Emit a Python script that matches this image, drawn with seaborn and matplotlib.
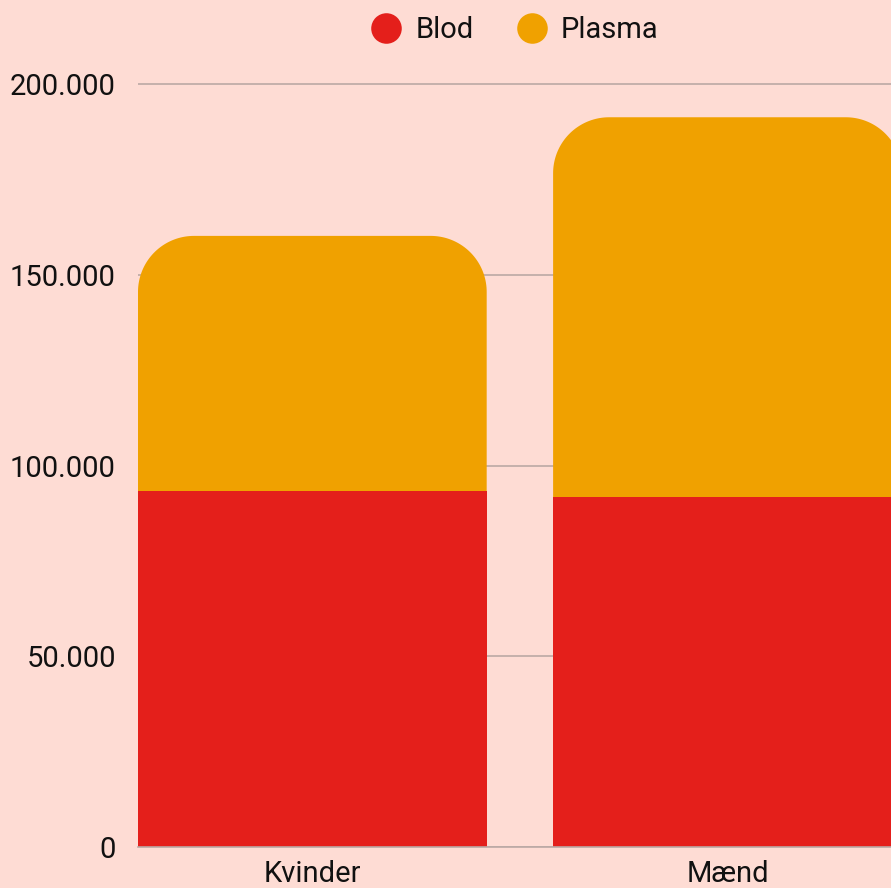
import matplotlib
matplotlib.use("Agg")

import numpy as np
import pandas as pd
import seaborn as sns
from matplotlib import pyplot as plt
from matplotlib.lines import Line2D
from matplotlib.patches import Polygon
from matplotlib.ticker import FuncFormatter

# data
categories = ["Kvinder", "Mænd"]
blod = [93300, 91700]
plasma = [66900, 99600]
yticks = [0, 50000, 100000, 150000, 200000]
series_labels = ["Blod", "Plasma"]

BG = "#FEDCD4"
RED = "#E41F1B"
ORANGE = "#F0A100"
GRID = "#BBA9A5"
TEXT = "#111111"

sns.set_theme(style="white")
plt.rcParams["font.family"] = ["Roboto", "DejaVu Sans"]

df = pd.DataFrame({"kategori": categories, "Blod": blod, "Plasma": plasma})
df["total"] = df["Blod"] + df["Plasma"]

W, H = 891, 888
fig = plt.figure(figsize=(W / 100, H / 100), dpi=100, facecolor=BG)
ax = fig.add_axes([138 / W, 41 / H, 1 - 138 / W, (H - 41 - 65) / H])
ax.set_facecolor(BG)

# stacked bars: total (plasma on top) first, blod drawn over it
bar_kw = dict(width=0.84, saturation=1, edgecolor="none", linewidth=0, ax=ax)
sns.barplot(data=df, x="kategori", y="total", color=ORANGE, **bar_kw)
n_top = len(ax.patches)
sns.barplot(data=df, x="kategori", y="Blod", color=RED, **bar_kw)

ax.set_xlim(-0.42, 1.394)
ax.set_ylim(0, 205000)

# round the top corners of the plasma bars with circular arcs (~56 px)
radius = 56
x_px = ax.transData.transform((1, 0))[0] - ax.transData.transform((0, 0))[0]
y_px = ax.transData.transform((0, 1))[1] - ax.transData.transform((0, 0))[1]
r_x = radius / x_px
r_y = radius / y_px
t = np.linspace(0, np.pi / 2, 40)
for p in list(ax.patches[:n_top]):
    x0, y0 = p.get_x(), p.get_y()
    x1, y1 = x0 + p.get_width(), y0 + p.get_height()
    right = np.column_stack([x1 - r_x + r_x * np.cos(t), y1 - r_y + r_y * np.sin(t)])
    left = np.column_stack([x0 + r_x - r_x * np.cos(t[::-1]), y1 - r_y + r_y * np.sin(t[::-1])])
    verts = np.vstack([[[x1, y0]], right, left, [[x0, y0]]])
    rounded = Polygon(verts, closed=True, facecolor=ORANGE, edgecolor="none", linewidth=0, zorder=0.95)
    p.remove()
    ax.add_patch(rounded)

ax.set_axisbelow(True)
ax.yaxis.grid(True, color=GRID, linewidth=1.2)
ax.set_yticks(yticks)
ax.yaxis.set_major_formatter(FuncFormatter(lambda v, _: f"{v:,.0f}".replace(",", ".")))
ax.tick_params(axis="y", length=0, pad=16, labelsize=21, labelcolor=TEXT)
ax.tick_params(axis="x", length=0, pad=9, labelsize=21, labelcolor=TEXT)
ax.set_xlabel("")
ax.set_ylabel("")
sns.despine(ax=ax, left=True, top=True, right=True)
ax.spines["bottom"].set_color(GRID)
ax.spines["bottom"].set_linewidth(1.2)

handles = [
    Line2D([], [], marker="o", linestyle="none", markersize=22, markerfacecolor=c, markeredgecolor="none")
    for c in (RED, ORANGE)
]
fig.legend(
    handles, series_labels, loc="center", bbox_to_anchor=(515 / W, 1 - 30 / H), ncol=2,
    frameon=False, fontsize=21, handlelength=1.0, handletextpad=0.5, columnspacing=1.5,
    labelcolor=TEXT,
)

fig.savefig("out.png", dpi=100, facecolor=BG)
